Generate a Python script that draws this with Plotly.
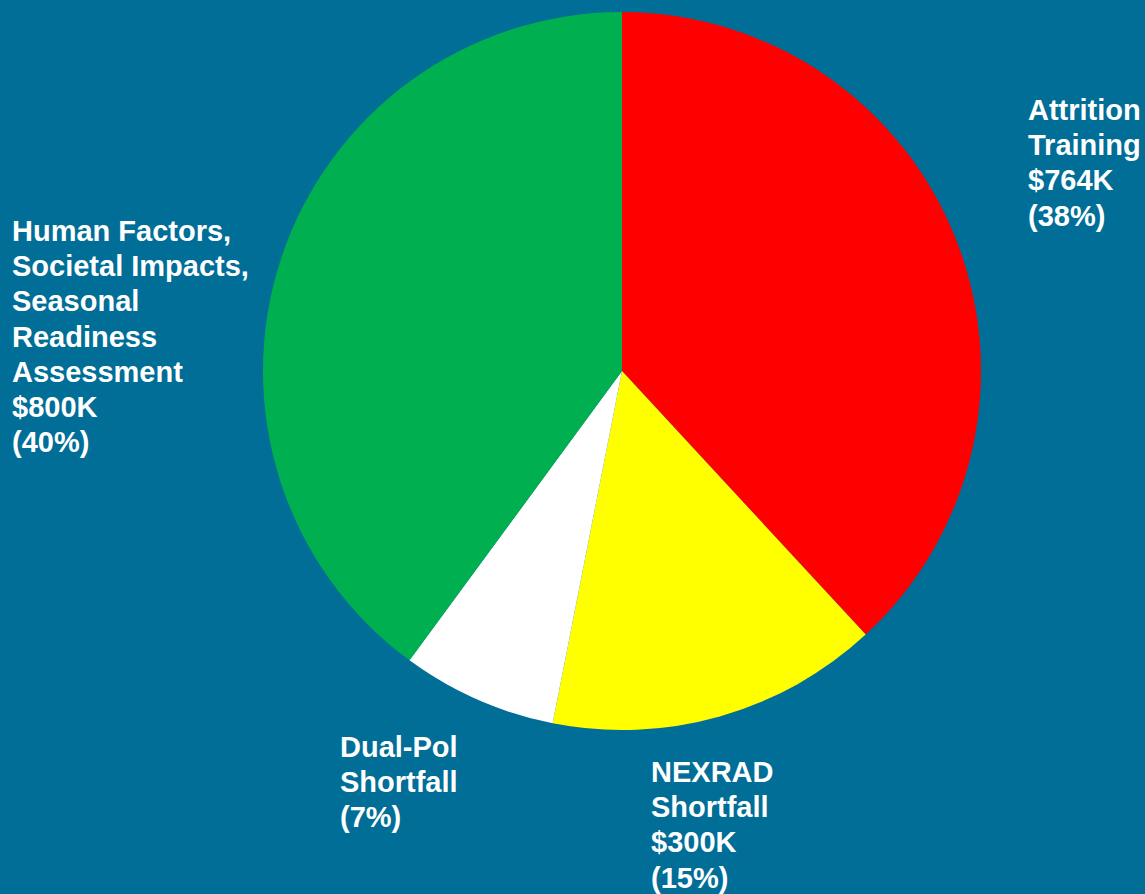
import plotly.graph_objects as go

labels = ["Attrition Training", "NEXRAD Shortfall", "Dual-Pol Shortfall",
          "Human Factors, Societal Impacts, Seasonal Readiness Assessment"]
values = [764, 300, 140, 800]
colors = ["#FF0000", "#FFFF00", "#FFFFFF", "#00B050"]
label_lines = [
    ["Attrition", "Training", "$764K", "(38%)"],
    ["NEXRAD", "Shortfall", "$300K", "(15%)"],
    ["Dual-Pol", "Shortfall", "(7%)"],
    ["Human Factors,", "Societal Impacts,", "Seasonal", "Readiness", "Assessment", "$800K", "(40%)"],
]
label_pos = [(1027, 93), (650, 755), (339, 730), (11, 214)]
LINE_GAP = 35.2

W, H = 1145, 894
BG = "#006E97"

fig = go.Figure(go.Pie(
    labels=labels, values=values, sort=False, direction="clockwise", rotation=0,
    marker=dict(colors=colors, line=dict(width=0)),
    textinfo="none", hoverinfo="label+value+percent", showlegend=False,
    domain=dict(x=[(622 - 359) / W, (622 + 359) / W], y=[1 - 730 / H, 1 - 12 / H]),
))

for lines, (px, py) in zip(label_lines, label_pos):
    for i, ln in enumerate(lines):
        fig.add_annotation(
            text="<b>" + ln + "</b>",
            x=px / W, y=1 - (py + i * LINE_GAP) / H, xref="paper", yref="paper",
            xanchor="left", yanchor="top", align="left", showarrow=False,
            font=dict(family="Liberation Sans, Arial, sans-serif", size=29, color="white"),
            borderpad=0,
        )

fig.update_layout(
    width=W, height=H, margin=dict(l=0, r=0, t=0, b=0),
    paper_bgcolor=BG, plot_bgcolor=BG,
)
fig.write_html("out.html")
